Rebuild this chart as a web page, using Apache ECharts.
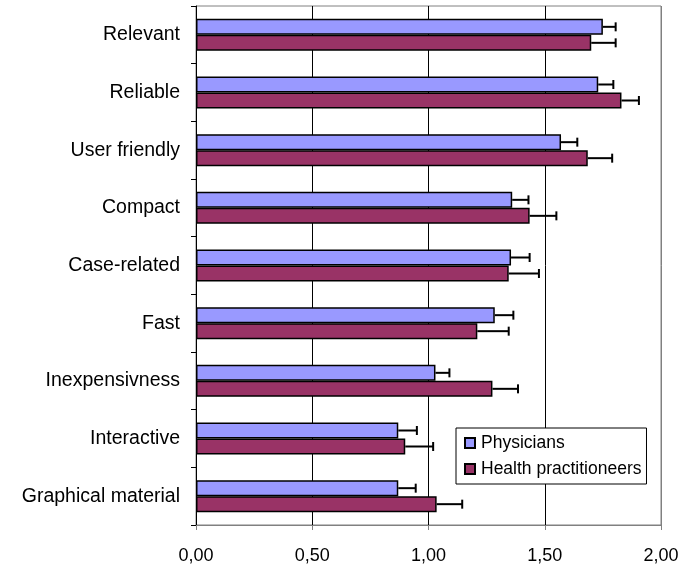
<!DOCTYPE html>
<html>
<head>
<meta charset="utf-8">
<script src="https://cdn.jsdelivr.net/npm/echarts@6/dist/echarts.min.js"></script>
<style>
html,body{margin:0;padding:0;background:#fff;}
#chart{width:685px;height:570px;}
</style>
</head>
<body>
<div id="chart"></div>
<script>
const categories = ['Relevant','Reliable','User friendly','Compact','Case-related','Fast','Inexpensivness','Interactive','Graphical material'];
const seriesNames = ['Physicians','Health practitioneers'];
const physicians = [1.75,1.73,1.57,1.36,1.355,1.285,1.03,0.87,0.87];
const physiciansErr = [0.055,0.065,0.07,0.07,0.08,0.08,0.06,0.08,0.075];
const practitioners = [1.70,1.83,1.685,1.435,1.345,1.21,1.275,0.90,1.035];
const practitionersErr = [0.105,0.075,0.105,0.115,0.13,0.135,0.11,0.12,0.11];
const xMin = 0, xMax = 2, xStep = 0.5;

const GAP = 0.445;
const font = 'Liberation Sans, Arial, sans-serif';

function errData(vals, errs, s) {
  return vals.map((v, i) => [v, i, errs[i], s]);
}

function renderErr(params, api) {
  const v = api.value(0), c = api.value(1), e = api.value(2), s = api.value(3);
  const band = api.size([0, 1])[1];
  const barH = band * (1 - GAP) / 2;
  const off = s === 0 ? -barH / 2 : barH / 2;
  const p0 = api.coord([v, c]);
  const p1 = api.coord([v + e, c]);
  const y = p0[1] + off;
  const style = { stroke: '#000', lineWidth: 2 };
  return {
    type: 'group',
    children: [
      { type: 'line', shape: { x1: p0[0], y1: y, x2: p1[0], y2: y }, style },
      { type: 'line', shape: { x1: p1[0], y1: y - 4.5, x2: p1[0], y2: y + 4.5 }, style }
    ]
  };
}

const chart = echarts.init(document.getElementById('chart'), null, { renderer: 'canvas' });
chart.setOption({
  animation: false,
  backgroundColor: '#fff',
  textStyle: { fontFamily: font },
  grid: { left: 196, right: 24, top: 6, bottom: 45, show: true, borderColor: '#808080', borderWidth: 1, backgroundColor: 'transparent' },
  legend: {
    orient: 'vertical',
    left: 456, top: 428,
    backgroundColor: '#fff',
    borderColor: '#000', borderWidth: 1,
    padding: [6, 5, 6, 8],
    itemGap: 8,
    itemWidth: 10, itemHeight: 10,
    icon: 'rect',
    data: seriesNames,
    textStyle: { fontSize: 17.5, color: '#000', fontFamily: font, padding: [0, 0, 0, 1] }
  },
  xAxis: {
    type: 'value', min: xMin, max: xMax, interval: xStep,
    axisLine: { show: true, lineStyle: { color: '#808080', width: 1 } },
    axisTick: { show: true, length: 5, lineStyle: { color: '#808080' } },
    axisLabel: { fontSize: 18, color: '#000', margin: 22, formatter: v => v.toFixed(2).replace('.', ',') },
    splitLine: { show: true, lineStyle: { color: ['#000', '#000', '#000', '#000', '#808080'], width: 1 } }
  },
  yAxis: {
    type: 'category', data: categories, inverse: true,
    axisLine: { show: true, lineStyle: { color: '#000', width: 1 } },
    axisTick: { show: true, length: 5, lineStyle: { color: '#000' } },
    axisLabel: { fontSize: 19.5, color: '#000', margin: 16, padding: [3, 0, 0, 0] },
    splitLine: { show: false }
  },
  series: [
    { name: seriesNames[0], type: 'bar', data: physicians, barGap: '0%', barCategoryGap: (GAP * 100) + '%',
      itemStyle: { color: '#9999FF', borderColor: '#000', borderWidth: 1.5 } },
    { name: seriesNames[1], type: 'bar', data: practitioners, barGap: '0%', barCategoryGap: (GAP * 100) + '%',
      itemStyle: { color: '#993366', borderColor: '#000', borderWidth: 1.5 } },
    { type: 'custom', renderItem: renderErr, data: errData(physicians, physiciansErr, 0), encode: { x: 0, y: 1 }, z: 5, silent: true },
    { type: 'custom', renderItem: renderErr, data: errData(practitioners, practitionersErr, 1), encode: { x: 0, y: 1 }, z: 5, silent: true }
  ]
});
</script>
</body>
</html>
